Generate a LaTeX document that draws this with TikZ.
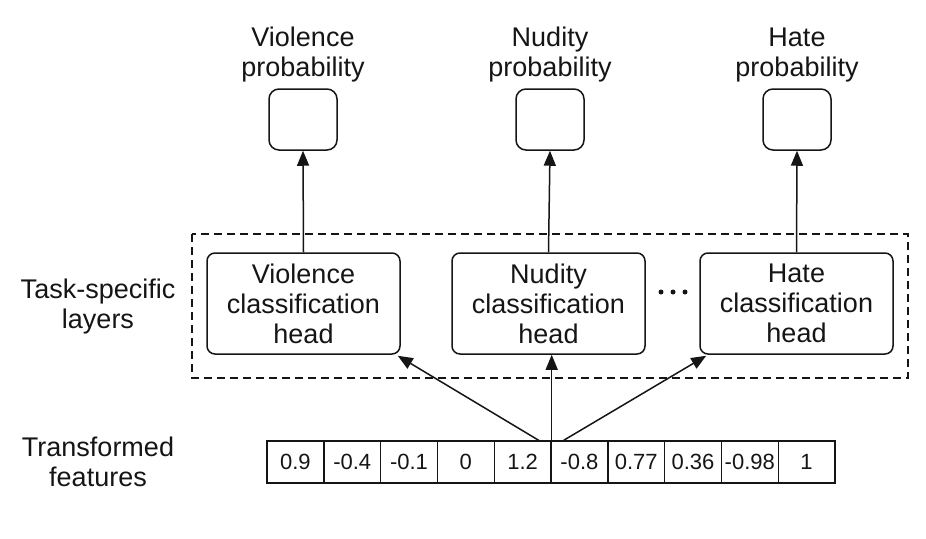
\documentclass[tikz,border=0pt]{standalone}
\usepackage{fontspec}
\setmainfont{Liberation Sans}
\usetikzlibrary{arrows.meta,calc}
\definecolor{ink}{HTML}{151515}
\begin{document}
\begin{tikzpicture}[x=1pt,y=-1pt,
  every node/.style={text=ink},
  lbl/.style={align=center,inner sep=0pt,font=\fontsize{27}{30}\selectfont},
  probbox/.style={draw=ink,line width=1.5pt,rounded corners=10pt,minimum width=68pt,minimum height=61pt,inner sep=0pt},
  headbox/.style={draw=ink,line width=1.5pt,rounded corners=8pt,minimum width=193pt,minimum height=101pt,inner sep=0pt,align=center,font=\fontsize{27}{30}\selectfont},
  cellbox/.style={draw=ink,line width=1.4pt,minimum width=56.8pt,minimum height=42pt,inner sep=0pt,font=\fontsize{22}{24}\selectfont},
  arr/.style={draw=ink,line width=1.5pt,-{Triangle[length=15pt,width=12pt]}}
]
\useasboundingbox (0,0) rectangle (926,538);

% probability labels and boxes
\node[lbl,anchor=south] (vl) at (303,82) {Violence\\probability};
\node[lbl,anchor=south] (nl) at (550,82) {Nudity\\probability};
\node[lbl,anchor=south] (hl) at (797,82) {Hate\\probability};
\node[probbox] (vp) at (303,119.5) {};
\node[probbox] (np) at (550,119.5) {};
\node[probbox] (hp) at (797,119.5) {};

% dashed task-specific region
\draw[ink,line width=1.4pt,dash pattern=on 8pt off 5pt] (192,234) rectangle (908,378);

% heads
\node[headbox] (vh) at (303.5,303.5) {Violence\\classification\\head};
\node[headbox] (nh) at (548.5,303.5) {Nudity\\classification\\head};
\node[headbox] (hh) at (796.5,303.5) {Hate\\classification\\head};

% dots
\fill[ink] (661,292) circle (2.5pt) (673,292) circle (2.5pt) (685,292) circle (2.5pt);

% side labels
\node[lbl] (tsl) at (98,307) {Task-specific\\layers};
\node[lbl] (tfl) at (98,462) {Transformed\\features};

% feature array
\foreach \v [count=\i] in {0.9,-0.4,-0.1,0,1.2,-0.8,0.77,0.36,-0.98,1}{
  \node[cellbox] (c\i) at ({267+56.8*(\i-0.5)},462) {\v};
}
\coordinate (fl) at ($(c5.north east)+(-13,0)$);
\coordinate (fm) at (c5.north east);
\coordinate (fr) at ($(c5.north east)+(12,0)$);

% arrows
\draw[arr] (vh.north) -- (vp.south);
\draw[arr] (nh.north) -- (np.south);
\draw[arr] (hh.north) -- (hp.south);
\draw[arr] (fl) -- ($(vh.south east)+(-3,1)$);
\draw[arr] (fm) -- (fm |- nh.south);
\draw[arr] (fr) -- ($(hh.south west)+(7,1)$);
\end{tikzpicture}
\end{document}
